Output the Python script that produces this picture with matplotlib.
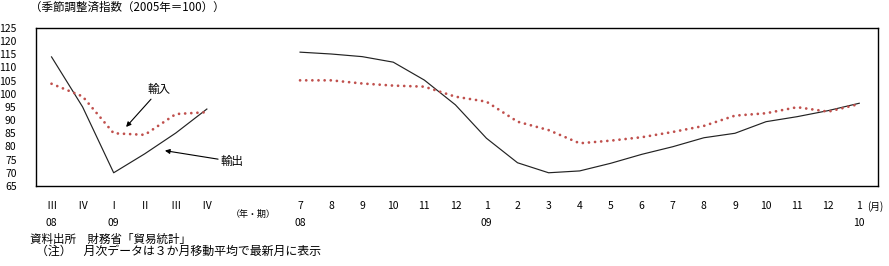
import matplotlib
matplotlib.use("Agg")
import matplotlib.pyplot as plt
import matplotlib.transforms as mtransforms

plt.rcParams['font.family'] = ['Noto Sans CJK JP', 'DejaVu Sans']

# quarterly part (2008 III - 2009 IV)
q_labels = ['Ⅲ', 'Ⅳ', 'Ⅰ', 'Ⅱ', 'Ⅲ', 'Ⅳ']
q_years = ['08', '', '09', '', '', '']
q_export = [114.0, 95.0, 70.0, 77.2, 85.1, 94.2]
q_import = [103.8, 99.0, 85.0, 84.4, 92.3, 93.0]

# monthly part (2008/7 - 2010/1), 3-month moving average
m_labels = ['7', '8', '9', '10', '11', '12', '1', '2', '3', '4',
            '5', '6', '7', '8', '9', '10', '11', '12', '1']
m_years = ['08', '', '', '', '', '', '09', '', '', '', '', '', '', '', '', '', '', '', '10']
m_export = [115.8, 115.1, 114.1, 112.0, 105.2, 95.8, 83.1, 73.8, 70.0, 70.7,
            73.6, 77.0, 79.9, 83.3, 85.0, 89.4, 91.3, 93.6, 96.4]
m_import = [105.1, 105.1, 103.9, 103.1, 102.7, 98.9, 97.0, 89.4, 86.2, 81.2,
            82.2, 83.5, 85.5, 87.8, 91.7, 92.6, 94.9, 93.2, 96.1]

gap = 2  # empty slots between the two parts
q_x = list(range(len(q_labels)))
m_x = [len(q_labels) + gap + i for i in range(len(m_labels))]

red = '#C0504D'
dots = (0, (0.01, 2.2))

fig = plt.figure(figsize=(8.89, 2.66), dpi=100)
ax = fig.add_axes([0.0405, 0.301, 0.947, 0.594])

ax.plot(q_x, q_export, color='#222222', lw=0.85)
ax.plot(m_x, m_export, color='#222222', lw=0.85)
ax.plot(q_x, q_import, color=red, lw=2.0, linestyle=dots, dash_capstyle='round')
ax.plot(m_x, m_import, color=red, lw=2.0, linestyle=dots, dash_capstyle='round')

ax.set_xlim(-0.5, m_x[-1] + 0.6)
ax.set_ylim(65, 125)
ax.set_yticks(range(65, 126, 5))
ax.tick_params(axis='y', length=0, pad=14, labelsize=7.5)
ax.set_xticks([])
for s in ax.spines.values():
    s.set_linewidth(1.0)

# x labels, two rows
trans = mtransforms.blended_transform_factory(ax.transData, ax.transAxes)
for x, lab, yr in zip(q_x + m_x, q_labels + m_labels, q_years + m_years):
    ax.text(x, -0.13, lab, transform=trans, ha='center', va='center', fontsize=7.5)
    if yr:
        ax.text(x, -0.235, yr, transform=trans, ha='center', va='center', fontsize=7.5)
ax.text(len(q_labels) + 0.5, -0.18, '（年・期）', transform=trans, ha='center',
        va='center', fontsize=6.5)
ax.text(m_x[-1] + 0.25, -0.13, '(月)', transform=trans, ha='left', va='center', fontsize=7)

# annotations
ax.annotate('輸入', xy=(2.4, 87.4), xytext=(3.1, 99.0), fontsize=8.3,
            ha='left', va='bottom',
            arrowprops=dict(arrowstyle='-|>', color='black', lw=0.8, mutation_scale=7,
                            shrinkA=0, shrinkB=0))
ax.annotate('輸出', xy=(3.65, 78.4), xytext=(5.45, 74.3), fontsize=8.3,
            ha='left', va='center',
            arrowprops=dict(arrowstyle='-|>', color='black', lw=0.8, mutation_scale=7,
                            shrinkA=0, shrinkB=0))

fig.text(0.034, 0.973, '（季節調整済指数（2005年＝100））', fontsize=8.3, va='center')
fig.text(0.034, 0.100, '資料出所　財務省「貿易統計」', fontsize=8.3, va='center')
fig.text(0.041, 0.055, '（注）　月次データは３か月移動平均で最新月に表示', fontsize=8.6, va='center')

fig.savefig('out.png', dpi=100)
